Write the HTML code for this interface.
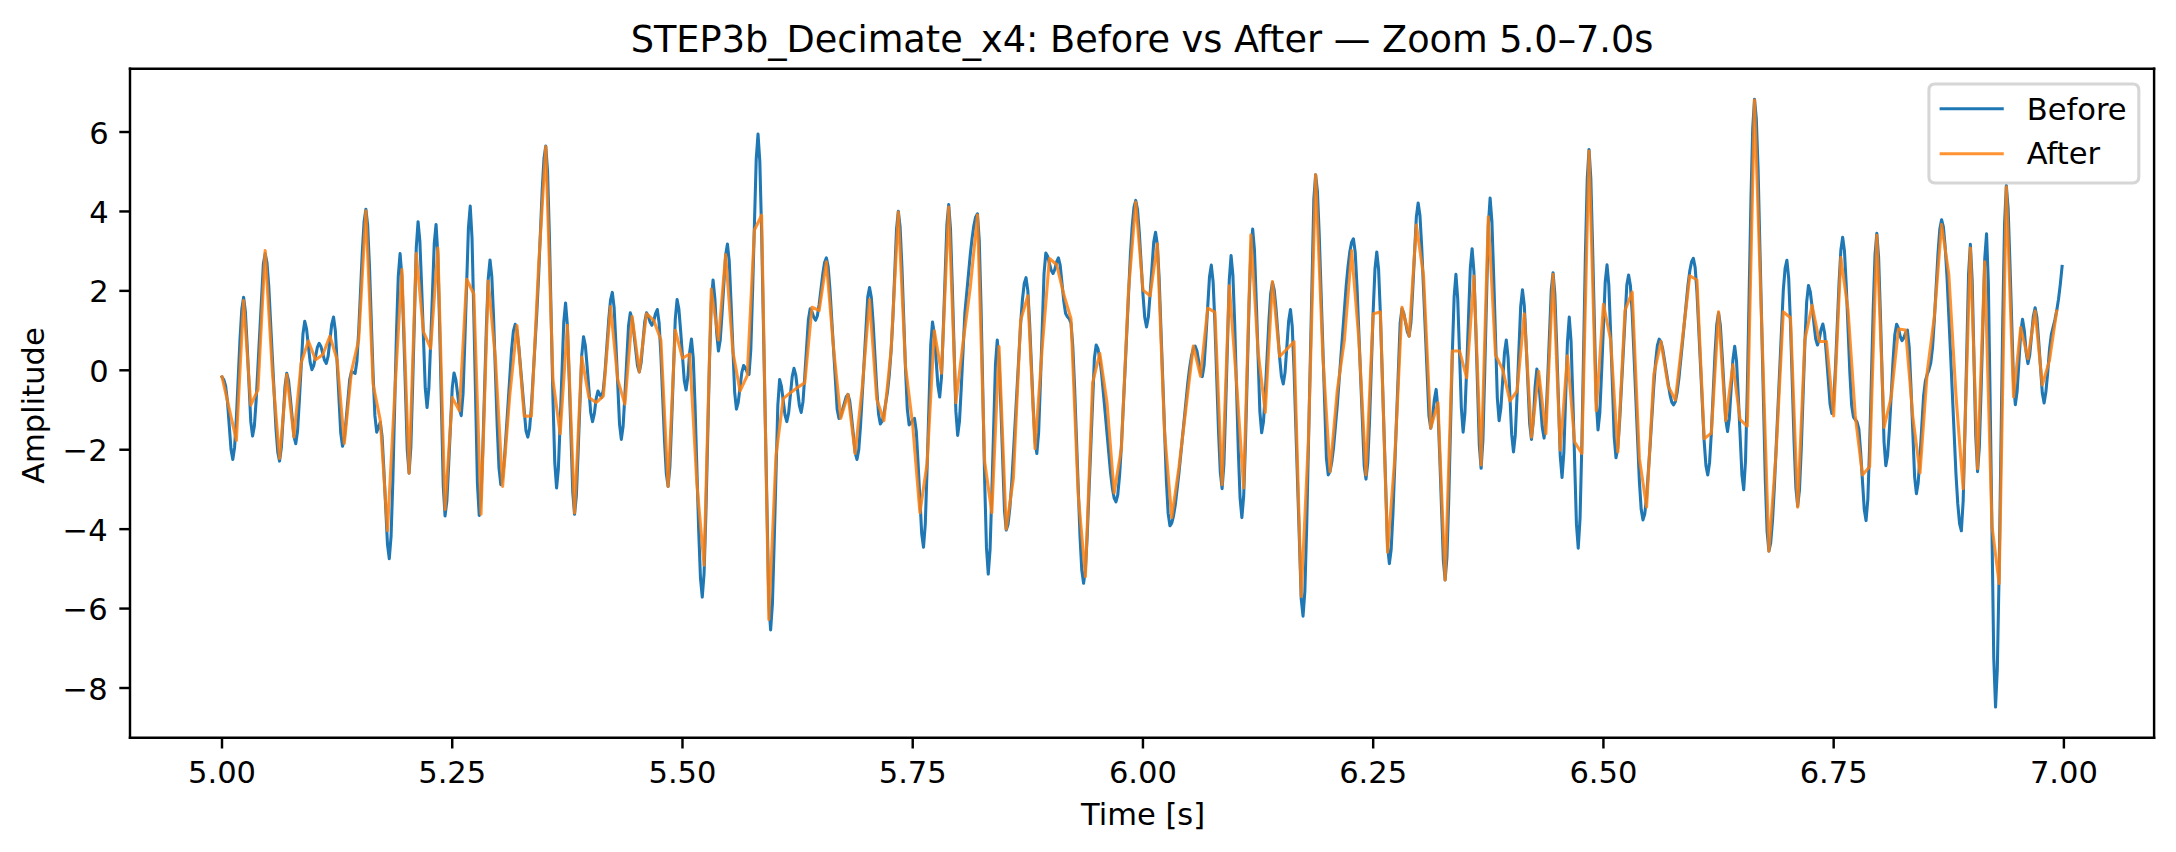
<!DOCTYPE html>
<html><head><meta charset="utf-8"><title>STEP3b_Decimate_x4: Before vs After</title>
<style>html,body{margin:0;padding:0;background:#fff;}body{width:2176px;height:852px;overflow:hidden;}svg{display:block;}</style>
</head><body>
<svg width="2176" height="852" viewBox="0 0 712.145 278.836" version="1.1"> <defs> <style type="text/css">*{stroke-linejoin: round; stroke-linecap: butt}</style> </defs> <g id="figure_1"> <g id="patch_1"> <path d="M 0 278.836  L 712.145 278.836  L 712.145 0  L 0 0  z " style="fill: #ffffff"/> </g> <g id="axes_1"> <g id="patch_2"> <path d="M 42.545 241.461  L 704.978 241.461  L 704.978 22.516  L 42.545 22.516  z " style="fill: #ffffff"/> </g> <g id="matplotlib.axis_1"> <g id="xtick_1"> <g id="line2d_1"> <g> <path d="M 0 0  L 0 3.5  " transform="translate(72.656 241.461)" style="stroke: #000000; stroke-width: 0.8"/> </g> </g> <g id="text_1"> <text style="font-size: 10px; font-family: 'DejaVu Sans', 'Liberation Sans', sans-serif; text-anchor: middle" x="72.656" y="256.060" transform="translate(0.000 0.360) rotate(-0 72.656 256.060)">5.00</text> </g> </g> <g id="xtick_2"> <g id="line2d_2"> <g> <path d="M 0 0  L 0 3.5  " transform="translate(148.006 241.461)" style="stroke: #000000; stroke-width: 0.8"/> </g> </g> <g id="text_2"> <text style="font-size: 10px; font-family: 'DejaVu Sans', 'Liberation Sans', sans-serif; text-anchor: middle" x="148.006" y="256.060" transform="translate(0.000 0.360) rotate(-0 148.006 256.060)">5.25</text> </g> </g> <g id="xtick_3"> <g id="line2d_3"> <g> <path d="M 0 0  L 0 3.5  " transform="translate(223.356 241.461)" style="stroke: #000000; stroke-width: 0.8"/> </g> </g> <g id="text_3"> <text style="font-size: 10px; font-family: 'DejaVu Sans', 'Liberation Sans', sans-serif; text-anchor: middle" x="223.356" y="256.060" transform="translate(0.000 0.360) rotate(-0 223.356 256.060)">5.50</text> </g> </g> <g id="xtick_4"> <g id="line2d_4"> <g> <path d="M 0 0  L 0 3.5  " transform="translate(298.706 241.461)" style="stroke: #000000; stroke-width: 0.8"/> </g> </g> <g id="text_4"> <text style="font-size: 10px; font-family: 'DejaVu Sans', 'Liberation Sans', sans-serif; text-anchor: middle" x="298.706" y="256.060" transform="translate(0.000 0.360) rotate(-0 298.706 256.060)">5.75</text> </g> </g> <g id="xtick_5"> <g id="line2d_5"> <g> <path d="M 0 0  L 0 3.5  " transform="translate(374.056 241.461)" style="stroke: #000000; stroke-width: 0.8"/> </g> </g> <g id="text_5"> <text style="font-size: 10px; font-family: 'DejaVu Sans', 'Liberation Sans', sans-serif; text-anchor: middle" x="374.056" y="256.060" transform="translate(0.000 0.360) rotate(-0 374.056 256.060)">6.00</text> </g> </g> <g id="xtick_6"> <g id="line2d_6"> <g> <path d="M 0 0  L 0 3.5  " transform="translate(449.406 241.461)" style="stroke: #000000; stroke-width: 0.8"/> </g> </g> <g id="text_6"> <text style="font-size: 10px; font-family: 'DejaVu Sans', 'Liberation Sans', sans-serif; text-anchor: middle" x="449.406" y="256.060" transform="translate(0.000 0.360) rotate(-0 449.406 256.060)">6.25</text> </g> </g> <g id="xtick_7"> <g id="line2d_7"> <g> <path d="M 0 0  L 0 3.5  " transform="translate(524.756 241.461)" style="stroke: #000000; stroke-width: 0.8"/> </g> </g> <g id="text_7"> <text style="font-size: 10px; font-family: 'DejaVu Sans', 'Liberation Sans', sans-serif; text-anchor: middle" x="524.756" y="256.060" transform="translate(0.000 0.360) rotate(-0 524.756 256.060)">6.50</text> </g> </g> <g id="xtick_8"> <g id="line2d_8"> <g> <path d="M 0 0  L 0 3.5  " transform="translate(600.106 241.461)" style="stroke: #000000; stroke-width: 0.8"/> </g> </g> <g id="text_8"> <text style="font-size: 10px; font-family: 'DejaVu Sans', 'Liberation Sans', sans-serif; text-anchor: middle" x="600.106" y="256.060" transform="translate(0.000 0.360) rotate(-0 600.106 256.060)">6.75</text> </g> </g> <g id="xtick_9"> <g id="line2d_9"> <g> <path d="M 0 0  L 0 3.5  " transform="translate(675.456 241.461)" style="stroke: #000000; stroke-width: 0.8"/> </g> </g> <g id="text_9"> <text style="font-size: 10px; font-family: 'DejaVu Sans', 'Liberation Sans', sans-serif; text-anchor: middle" x="675.456" y="256.060" transform="translate(0.000 0.360) rotate(-0 675.456 256.060)">7.00</text> </g> </g> <g id="text_10"> <text style="font-size: 10px; font-family: 'DejaVu Sans', 'Liberation Sans', sans-serif; text-anchor: middle" x="373.761" y="269.738" transform="translate(0.327 0.360) rotate(-0 373.761 269.738)">Time [s]</text> </g> </g> <g id="matplotlib.axis_2"> <g id="ytick_1"> <g id="line2d_10"> <g> <path d="M 0 0  L -3.5 0  " transform="translate(42.545 225.163)" style="stroke: #000000; stroke-width: 0.8"/> </g> </g> <g id="text_11"> <text style="font-size: 10px; font-family: 'DejaVu Sans', 'Liberation Sans', sans-serif; text-anchor: end" x="35.545" y="228.962" transform="translate(-0.327 0.000) rotate(-0 35.545 228.962)">−8</text> </g> </g> <g id="ytick_2"> <g id="line2d_11"> <g> <path d="M 0 0  L -3.5 0  " transform="translate(42.545 199.169)" style="stroke: #000000; stroke-width: 0.8"/> </g> </g> <g id="text_12"> <text style="font-size: 10px; font-family: 'DejaVu Sans', 'Liberation Sans', sans-serif; text-anchor: end" x="35.545" y="202.969" transform="translate(-0.327 0.000) rotate(-0 35.545 202.969)">−6</text> </g> </g> <g id="ytick_3"> <g id="line2d_12"> <g> <path d="M 0 0  L -3.5 0  " transform="translate(42.545 173.176)" style="stroke: #000000; stroke-width: 0.8"/> </g> </g> <g id="text_13"> <text style="font-size: 10px; font-family: 'DejaVu Sans', 'Liberation Sans', sans-serif; text-anchor: end" x="35.545" y="176.975" transform="translate(-0.327 0.000) rotate(-0 35.545 176.975)">−4</text> </g> </g> <g id="ytick_4"> <g id="line2d_13"> <g> <path d="M 0 0  L -3.5 0  " transform="translate(42.545 147.182)" style="stroke: #000000; stroke-width: 0.8"/> </g> </g> <g id="text_14"> <text style="font-size: 10px; font-family: 'DejaVu Sans', 'Liberation Sans', sans-serif; text-anchor: end" x="35.545" y="150.981" transform="translate(-0.327 0.000) rotate(-0 35.545 150.981)">−2</text> </g> </g> <g id="ytick_5"> <g id="line2d_14"> <g> <path d="M 0 0  L -3.5 0  " transform="translate(42.545 121.188)" style="stroke: #000000; stroke-width: 0.8"/> </g> </g> <g id="text_15"> <text style="font-size: 10px; font-family: 'DejaVu Sans', 'Liberation Sans', sans-serif; text-anchor: end" x="35.545" y="124.987" transform="rotate(-0 35.545 124.987)">0</text> </g> </g> <g id="ytick_6"> <g id="line2d_15"> <g> <path d="M 0 0  L -3.5 0  " transform="translate(42.545 95.194)" style="stroke: #000000; stroke-width: 0.8"/> </g> </g> <g id="text_16"> <text style="font-size: 10px; font-family: 'DejaVu Sans', 'Liberation Sans', sans-serif; text-anchor: end" x="35.545" y="98.994" transform="rotate(-0 35.545 98.994)">2</text> </g> </g> <g id="ytick_7"> <g id="line2d_16"> <g> <path d="M 0 0  L -3.5 0  " transform="translate(42.545 69.201)" style="stroke: #000000; stroke-width: 0.8"/> </g> </g> <g id="text_17"> <text style="font-size: 10px; font-family: 'DejaVu Sans', 'Liberation Sans', sans-serif; text-anchor: end" x="35.545" y="73.000" transform="rotate(-0 35.545 73.000)">4</text> </g> </g> <g id="ytick_8"> <g id="line2d_17"> <g> <path d="M 0 0  L -3.5 0  " transform="translate(42.545 43.207)" style="stroke: #000000; stroke-width: 0.8"/> </g> </g> <g id="text_18"> <text style="font-size: 10px; font-family: 'DejaVu Sans', 'Liberation Sans', sans-serif; text-anchor: end" x="35.545" y="47.006" transform="rotate(-0 35.545 47.006)">6</text> </g> </g> <g id="text_19"> <text style="font-size: 10px; font-family: 'DejaVu Sans', 'Liberation Sans', sans-serif; text-anchor: middle" x="14.723" y="131.989" transform="translate(-0.327 0.752) rotate(-90 14.723 131.989)">Amplitude</text> </g> </g> <g id="line2d_18"> <path d="M 72.656 123.384  L 73.244 124.274  L 73.833 126.290  L 74.422 131.227  L 75.599 146.984  L 76.188 150.350  L 76.776 146.421  L 77.365 136.597  L 78.542 111.055  L 79.131 101.231  L 79.720 97.301  L 80.308 102.025  L 80.897 113.291  L 82.074 138.001  L 82.663 142.725  L 83.252 139.417  L 83.840 130.885  L 86.195 86.308  L 86.784 83.000  L 87.372 85.918  L 87.961 93.610  L 89.138 116.953  L 90.316 140.296  L 90.904 147.989  L 91.493 150.907  L 92.082 146.417  L 93.259 126.663  L 93.848 122.173  L 94.436 124.569  L 95.025 130.283  L 96.202 142.816  L 96.791 145.212  L 97.380 141.047  L 97.968 131.112  L 99.146 109.322  L 99.734 105.156  L 100.323 107.631  L 101.500 118.520  L 102.089 120.995  L 102.678 119.645  L 103.855 113.705  L 104.444 112.355  L 105.032 113.388  L 106.210 117.933  L 106.799 118.966  L 107.387 116.588  L 108.565 106.126  L 109.153 103.748  L 109.742 108.149  L 110.331 118.643  L 111.508 141.663  L 112.097 146.063  L 112.685 143.518  L 113.274 137.447  L 114.451 124.130  L 115.040 121.584  L 116.217 122.239  L 116.806 118.256  L 117.395 108.299  L 118.572 82.410  L 119.161 72.452  L 119.749 68.470  L 120.338 73.875  L 120.927 87.390  L 122.104 122.528  L 122.693 136.043  L 123.281 141.449  L 124.459 138.209  L 125.047 142.851  L 125.636 153.922  L 126.813 178.205  L 127.402 182.848  L 127.991 175.451  L 128.579 156.961  L 129.757 108.886  L 130.345 90.396  L 130.934 83.000  L 131.523 90.474  L 132.111 108.297  L 133.289 147.393  L 133.877 154.867  L 134.466 146.307  L 135.055 125.895  L 136.232 81.120  L 136.821 72.560  L 137.409 78.884  L 137.998 93.964  L 139.175 127.042  L 139.764 133.366  L 140.353 127.134  L 140.941 112.273  L 142.119 79.676  L 142.708 73.444  L 143.296 83.369  L 143.885 107.035  L 145.062 158.949  L 145.651 168.874  L 146.240 164.006  L 146.828 152.400  L 148.006 126.942  L 148.594 122.075  L 149.183 124.259  L 150.360 133.866  L 150.949 136.049  L 151.538 128.912  L 152.126 111.893  L 153.304 74.560  L 153.892 67.422  L 154.481 77.956  L 155.070 103.076  L 156.247 158.176  L 156.836 168.710  L 157.424 162.516  L 158.013 147.032  L 159.190 106.773  L 159.779 91.288  L 160.368 85.094  L 160.956 90.542  L 161.545 104.159  L 162.722 139.565  L 163.311 153.183  L 163.900 158.630  L 164.488 156.375  L 165.077 150.428  L 166.254 132.384  L 167.432 114.339  L 168.020 108.393  L 168.609 106.137  L 169.198 108.182  L 169.786 113.456  L 172.141 141.008  L 172.730 143.053  L 173.318 140.287  L 173.907 133.146  L 175.673 102.693  L 176.262 90.572  L 177.439 62.305  L 178.028 51.894  L 178.617 47.787  L 179.205 56.077  L 179.794 76.804  L 180.971 130.693  L 181.560 151.420  L 182.149 159.710  L 182.737 153.410  L 183.326 138.387  L 184.503 105.434  L 185.092 99.134  L 185.681 106.329  L 186.269 123.486  L 187.447 161.122  L 188.035 168.317  L 188.624 162.273  L 189.213 147.858  L 190.390 116.240  L 190.979 110.195  L 191.567 113.085  L 192.156 119.976  L 193.333 135.090  L 193.922 137.980  L 194.511 135.384  L 195.099 130.562  L 195.688 127.966  L 196.865 130.126  L 197.454 127.575  L 198.043 121.200  L 199.220 104.624  L 199.809 98.248  L 200.397 95.698  L 200.986 100.701  L 201.575 112.632  L 202.752 138.802  L 203.341 143.805  L 203.929 139.496  L 204.518 129.221  L 205.695 106.683  L 206.284 102.374  L 206.873 104.389  L 207.461 109.194  L 208.639 119.733  L 209.227 121.748  L 209.816 118.721  L 210.993 105.401  L 211.582 102.374  L 212.171 103.426  L 212.759 105.380  L 213.348 106.432  L 213.937 105.100  L 214.526 102.626  L 215.114 101.294  L 215.703 105.582  L 216.292 116.303  L 217.469 144.177  L 218.058 154.898  L 218.646 159.187  L 219.235 152.829  L 219.824 137.668  L 221.001 104.412  L 221.590 98.054  L 222.178 101.131  L 222.767 108.468  L 223.944 124.562  L 224.533 127.639  L 225.122 123.311  L 225.710 115.275  L 226.299 110.948  L 226.888 117.205  L 227.476 132.847  L 228.654 173.516  L 229.242 189.158  L 229.831 195.414  L 230.420 187.725  L 231.008 168.501  L 232.186 118.520  L 232.774 99.296  L 233.363 91.607  L 233.952 97.640  L 234.540 108.843  L 235.129 114.875  L 235.718 111.237  L 236.306 102.561  L 237.484 83.529  L 238.072 79.891  L 238.661 85.510  L 239.250 98.910  L 240.427 128.303  L 241.016 133.922  L 241.604 131.687  L 242.782 121.855  L 243.370 119.621  L 243.959 120.384  L 244.548 121.802  L 245.136 122.566  L 245.725 114.380  L 246.314 94.861  L 247.491 52.045  L 248.080 43.859  L 248.668 52.851  L 249.257 76.040  L 251.612 197.190  L 252.201 206.181  L 252.789 197.656  L 253.378 177.325  L 254.555 132.728  L 255.144 124.202  L 255.733 126.355  L 256.910 135.827  L 257.499 137.980  L 258.087 135.255  L 259.265 123.262  L 259.853 120.537  L 260.442 122.792  L 261.619 132.714  L 262.208 134.969  L 262.797 131.443  L 263.385 123.035  L 264.563 104.591  L 265.151 101.065  L 265.740 102.041  L 266.329 103.853  L 266.917 104.828  L 267.506 103.316  L 268.095 99.534  L 269.272 89.702  L 269.861 85.920  L 270.449 84.407  L 271.038 87.317  L 271.627 94.820  L 273.981 134.023  L 274.570 136.933  L 275.159 136.116  L 276.925 129.895  L 277.513 129.078  L 278.102 131.291  L 278.691 136.566  L 279.868 148.138  L 280.457 150.350  L 281.045 147.234  L 281.634 139.198  L 283.989 97.210  L 284.577 94.094  L 285.166 97.403  L 285.755 105.676  L 286.932 127.184  L 287.521 135.456  L 288.110 138.765  L 288.698 137.862  L 289.287 135.472  L 290.464 128.141  L 291.053 122.555  L 291.642 114.700  L 292.230 103.817  L 293.408 75.018  L 293.996 69.124  L 294.585 74.305  L 295.174 87.256  L 296.351 120.928  L 296.940 133.880  L 297.528 139.060  L 298.117 138.508  L 298.706 137.484  L 299.294 136.933  L 299.883 141.316  L 300.472 151.770  L 301.649 174.700  L 302.238 179.084  L 302.826 171.419  L 303.415 153.142  L 304.592 113.049  L 305.181 105.385  L 305.770 109.220  L 306.947 126.094  L 307.536 129.929  L 308.124 123.381  L 308.713 107.766  L 309.890 73.513  L 310.479 66.964  L 311.068 74.819  L 311.656 93.551  L 312.834 134.641  L 313.422 142.496  L 314.011 137.887  L 314.600 126.871  L 315.777 102.479  L 317.543 83.319  L 318.132 78.021  L 318.720 73.791  L 319.309 70.989  L 319.898 69.975  L 320.486 78.709  L 321.075 100.545  L 322.253 157.318  L 322.841 179.153  L 323.430 187.887  L 324.019 179.920  L 324.607 160.920  L 325.785 119.243  L 326.373 111.275  L 326.962 117.746  L 327.551 133.174  L 328.728 167.018  L 329.317 173.488  L 329.905 171.563  L 330.494 166.286  L 331.083 158.402  L 332.260 137.790  L 334.026 105.941  L 334.615 98.056  L 335.203 92.779  L 335.792 90.854  L 336.381 95.118  L 336.969 105.779  L 338.147 133.495  L 338.735 144.156  L 339.324 148.420  L 339.913 141.596  L 340.501 125.323  L 341.679 89.628  L 342.267 82.804  L 342.856 83.852  L 344.033 88.464  L 344.622 89.512  L 345.211 88.189  L 345.799 85.731  L 346.388 84.407  L 346.977 86.882  L 348.154 98.647  L 348.743 102.582  L 349.331 103.636  L 349.920 104.287  L 350.509 105.790  L 351.097 113.309  L 351.686 126.558  L 353.452 175.583  L 354.041 186.651  L 354.629 190.898  L 355.218 186.578  L 355.807 175.437  L 358.162 117.232  L 358.750 112.912  L 359.339 114.107  L 359.928 117.384  L 360.516 122.280  L 361.694 135.080  L 363.460 154.858  L 364.048 159.754  L 364.637 163.031  L 365.226 164.226  L 365.814 161.929  L 366.403 155.630  L 366.992 146.218  L 368.169 121.615  L 369.935 83.598  L 370.524 74.186  L 371.112 67.887  L 371.701 65.590  L 372.290 68.656  L 372.878 76.323  L 374.056 96.255  L 374.644 103.922  L 375.233 106.988  L 375.822 103.765  L 376.410 96.079  L 377.588 79.220  L 378.176 75.997  L 378.765 80.125  L 379.354 91.010  L 380.531 124.039  L 381.708 157.068  L 382.297 167.952  L 382.886 172.081  L 383.474 171.223  L 384.063 168.821  L 384.652 165.133  L 385.829 154.926  L 388.772 124.904  L 389.361 120.187  L 389.950 116.498  L 390.538 114.097  L 391.127 113.239  L 391.716 114.804  L 392.893 121.688  L 393.482 123.253  L 394.071 119.458  L 394.659 110.409  L 395.837 90.558  L 396.425 86.763  L 397.014 92.184  L 397.603 105.735  L 398.780 140.968  L 399.369 154.519  L 399.957 159.939  L 400.546 152.006  L 401.135 133.087  L 402.312 91.588  L 402.901 83.655  L 403.489 90.006  L 404.078 105.884  L 405.255 147.168  L 405.844 163.046  L 406.433 169.397  L 407.021 162.401  L 407.610 144.911  L 408.787 99.436  L 409.376 81.945  L 409.965 74.949  L 410.553 81.886  L 411.142 98.426  L 412.319 134.709  L 412.908 141.645  L 413.497 138.002  L 414.085 128.893  L 415.263 105.210  L 415.851 96.101  L 416.440 92.458  L 417.029 94.918  L 417.617 101.070  L 418.795 117.063  L 419.383 123.214  L 419.972 125.675  L 420.561 121.865  L 421.738 105.103  L 422.327 101.294  L 422.915 106.854  L 423.504 121.193  L 425.859 196.105  L 426.447 201.665  L 427.036 193.662  L 427.625 173.021  L 429.980 65.183  L 430.568 57.179  L 431.157 62.621  L 431.746 76.656  L 434.100 149.981  L 434.689 155.423  L 435.278 154.297  L 435.866 151.143  L 436.455 146.300  L 437.632 132.896  L 440.576 93.475  L 441.164 87.280  L 441.753 82.437  L 442.342 79.283  L 442.930 78.157  L 443.519 82.513  L 444.108 93.747  L 446.462 152.441  L 447.051 156.798  L 447.640 151.292  L 448.228 137.529  L 449.406 101.745  L 449.994 87.982  L 450.583 82.476  L 451.172 88.125  L 451.760 102.693  L 454.115 178.802  L 454.704 184.451  L 455.292 179.832  L 455.881 167.920  L 458.236 105.684  L 458.824 101.065  L 459.413 102.461  L 460.590 108.603  L 461.179 109.999  L 461.768 105.469  L 462.356 94.666  L 463.534 70.971  L 464.122 66.441  L 464.711 70.523  L 465.300 81.051  L 467.655 136.057  L 468.243 140.140  L 468.832 136.848  L 469.421 130.734  L 470.009 127.442  L 470.598 133.929  L 471.187 149.399  L 472.364 183.331  L 472.953 189.818  L 473.541 182.408  L 474.130 163.881  L 475.307 115.712  L 475.896 97.185  L 476.485 89.774  L 477.073 97.848  L 478.251 133.375  L 478.839 141.449  L 479.428 135.204  L 480.017 120.310  L 481.194 87.642  L 481.783 81.396  L 482.371 88.871  L 482.960 106.693  L 484.137 145.789  L 484.726 153.263  L 485.315 144.067  L 485.903 122.137  L 487.081 74.033  L 487.669 64.837  L 488.258 72.413  L 488.847 90.480  L 490.024 130.109  L 490.613 137.685  L 491.201 133.559  L 492.379 115.402  L 492.967 111.275  L 493.556 116.997  L 494.733 142.174  L 495.322 147.896  L 495.911 142.379  L 496.499 129.223  L 497.677 100.364  L 498.265 94.847  L 498.854 99.939  L 499.443 112.080  L 500.620 138.714  L 501.209 143.805  L 501.798 137.832  L 502.386 126.739  L 502.975 120.766  L 503.564 124.299  L 504.741 139.846  L 505.330 143.380  L 505.918 137.750  L 506.507 124.326  L 507.684 94.880  L 508.273 89.251  L 508.862 96.221  L 509.450 112.843  L 510.628 149.304  L 511.216 156.274  L 511.805 148.067  L 512.982 111.956  L 513.571 103.748  L 514.160 111.617  L 514.748 130.382  L 515.926 171.542  L 516.514 179.411  L 517.103 169.744  L 517.692 145.575  L 518.869 82.736  L 519.458 58.567  L 520.046 48.899  L 520.635 58.446  L 521.224 81.212  L 522.401 131.149  L 522.990 140.696  L 523.578 135.077  L 524.167 121.677  L 525.344 92.285  L 525.933 86.665  L 526.522 93.234  L 527.110 108.898  L 528.288 143.258  L 528.876 149.827  L 529.465 146.513  L 530.054 137.967  L 532.408 93.317  L 532.997 90.003  L 533.586 93.447  L 534.174 102.526  L 535.352 130.077  L 536.529 157.627  L 537.118 166.706  L 537.707 170.150  L 538.295 168.121  L 538.884 162.683  L 540.061 145.476  L 541.239 126.321  L 541.827 118.448  L 542.416 113.010  L 543.005 110.981  L 543.593 111.906  L 544.182 114.346  L 545.359 121.748  L 546.537 129.150  L 547.125 131.589  L 547.714 132.515  L 548.303 131.397  L 548.891 128.333  L 549.480 123.756  L 550.657 111.789  L 552.423 93.297  L 553.012 88.719  L 553.601 85.656  L 554.189 84.538  L 554.778 87.584  L 555.367 95.614  L 556.544 119.981  L 557.721 144.347  L 558.310 152.377  L 558.899 155.423  L 559.487 151.493  L 560.076 141.670  L 561.253 116.127  L 561.842 106.303  L 562.431 102.374  L 563.019 106.414  L 563.608 116.048  L 564.785 137.180  L 565.374 141.220  L 565.963 136.863  L 567.140 117.694  L 567.729 113.337  L 568.317 118.218  L 568.906 129.856  L 570.083 155.386  L 570.672 160.267  L 571.261 150.800  L 571.849 127.134  L 573.027 65.603  L 573.616 41.937  L 574.204 32.471  L 574.793 38.825  L 575.382 55.579  L 576.559 106.416  L 577.736 157.253  L 578.325 174.006  L 578.914 180.360  L 579.502 177.695  L 580.091 170.460  L 580.680 159.797  L 583.623 95.061  L 584.212 87.826  L 584.800 85.160  L 585.389 91.121  L 585.978 106.023  L 587.155 144.770  L 587.744 159.673  L 588.332 165.634  L 588.921 160.286  L 589.510 146.917  L 590.687 112.157  L 591.276 98.787  L 591.864 93.440  L 592.453 95.465  L 593.042 100.294  L 594.219 110.887  L 594.808 112.912  L 595.396 111.130  L 595.985 107.821  L 596.574 106.039  L 597.162 109.085  L 597.751 116.349  L 598.928 132.283  L 599.517 135.329  L 600.106 131.055  L 600.694 120.371  L 601.872 92.591  L 602.460 81.907  L 603.049 77.633  L 603.638 82.119  L 604.226 93.291  L 605.404 121.968  L 605.992 132.612  L 606.581 136.516  L 607.758 138.113  L 608.347 140.388  L 608.936 147.894  L 610.113 166.633  L 610.702 170.379  L 611.291 163.414  L 611.879 146.003  L 613.057 100.733  L 613.645 83.321  L 614.234 76.357  L 614.823 84.266  L 615.411 103.128  L 616.589 144.502  L 617.177 152.412  L 617.766 148.982  L 618.355 140.407  L 619.532 118.110  L 620.121 109.535  L 620.709 106.105  L 621.298 107.496  L 621.887 110.080  L 622.475 111.472  L 623.064 110.581  L 623.653 108.926  L 624.241 108.036  L 624.830 113.604  L 625.419 126.882  L 626.596 156.007  L 627.185 161.576  L 627.773 157.978  L 628.362 149.313  L 629.539 129.538  L 630.128 124.660  L 630.717 122.575  L 631.305 120.994  L 631.894 118.777  L 632.483 113.553  L 633.071 104.392  L 634.249 82.944  L 634.837 75.030  L 635.426 71.906  L 636.015 74.277  L 636.603 80.779  L 637.192 90.493  L 638.369 115.889  L 640.135 155.129  L 640.724 164.844  L 641.313 171.346  L 641.901 173.717  L 642.490 163.966  L 643.079 140.713  L 644.256 89.708  L 644.845 79.956  L 645.433 91.584  L 646.611 142.748  L 647.200 154.376  L 647.788 146.279  L 648.377 126.971  L 649.554 84.617  L 650.143 76.520  L 650.732 92.629  L 651.320 131.043  L 652.498 215.304  L 653.086 231.413  L 653.675 218.769  L 654.264 187.158  L 655.441 104.969  L 656.030 73.358  L 656.618 60.713  L 657.207 68.174  L 657.796 85.964  L 658.973 124.989  L 659.562 132.449  L 660.150 128.077  L 661.328 108.840  L 661.916 104.468  L 662.505 108.236  L 663.094 115.232  L 663.682 118.999  L 664.271 116.140  L 665.448 103.563  L 666.037 100.705  L 666.626 103.948  L 667.214 111.683  L 668.392 128.649  L 668.980 131.893  L 669.569 128.243  L 670.158 121.912  L 670.746 114.366  L 671.335 109.542  L 672.512 104.672  L 673.101 101.670  L 673.690 97.944  L 674.278 93.085  L 674.867 87.203  L 674.867 87.203  " clip-path="url(#p6e7dc0c90b)" style="fill: none; stroke: #1f77b4; stroke-linecap: square"/> </g> <g id="line2d_19"> <path d="M 72.656 123.319  L 77.365 144.133  L 79.720 98.381  L 82.074 132.580  L 84.429 127.508  L 86.784 82.018  L 89.138 121.582  L 91.493 150.023  L 93.848 122.599  L 96.202 143.020  L 98.557 118.802  L 100.912 111.603  L 103.266 117.755  L 105.621 116.119  L 107.976 109.999  L 110.331 117.755  L 112.685 145.114  L 115.040 121.421  L 117.395 111.210  L 119.749 68.993  L 122.104 125.740  L 124.459 137.587  L 126.813 173.684  L 129.168 129.143  L 131.523 88.171  L 133.877 154.867  L 136.232 83.000  L 138.587 108.592  L 140.941 113.992  L 143.296 81.167  L 145.651 166.714  L 148.006 130.126  L 150.360 134.446  L 152.715 91.378  L 155.070 96.221  L 157.424 168.317  L 159.779 91.934  L 162.134 117.357  L 164.488 159.187  L 166.843 129.275  L 169.198 106.530  L 171.552 136.180  L 173.907 136.180  L 176.262 87.194  L 178.617 47.950  L 180.971 124.366  L 183.326 141.973  L 185.681 106.432  L 188.035 167.892  L 190.390 116.872  L 192.745 130.126  L 195.099 131.762  L 197.454 129.602  L 199.809 100.312  L 202.163 124.240  L 204.518 132.286  L 206.873 103.552  L 209.227 121.715  L 211.582 102.668  L 213.937 104.828  L 216.292 111.275  L 218.646 159.187  L 221.001 108.068  L 223.356 117.232  L 225.710 115.857  L 228.065 158.314  L 230.420 184.975  L 232.774 94.618  L 235.129 111.275  L 237.484 83.327  L 239.838 115.039  L 242.193 127.966  L 244.548 122.926  L 246.902 75.277  L 249.257 70.433  L 251.612 202.745  L 253.967 148.976  L 256.321 130.453  L 258.676 128.522  L 261.031 126.788  L 263.385 125.315  L 265.740 100.541  L 268.095 101.621  L 270.449 85.684  L 272.804 113.992  L 275.159 136.933  L 277.513 129.078  L 279.868 148.420  L 282.223 126.470  L 284.577 98.039  L 286.932 130.682  L 289.287 137.685  L 291.642 114.417  L 293.996 69.386  L 296.351 119.915  L 298.706 139.158  L 301.060 167.794  L 303.415 151.660  L 305.770 108.265  L 308.124 122.141  L 310.479 67.750  L 312.834 131.762  L 315.188 112.094  L 317.543 94.094  L 319.898 70.368  L 322.253 151.103  L 324.607 167.794  L 326.962 113.435  L 329.317 173.161  L 331.671 156.442  L 334.026 104.828  L 336.381 96.778  L 338.735 146.816  L 341.090 113.770  L 343.445 84.604  L 345.799 86.567  L 348.154 96.398  L 350.509 104.305  L 352.863 161.777  L 355.218 188.738  L 357.573 125.315  L 359.928 115.628  L 362.282 131.762  L 364.637 161.346  L 366.992 146.785  L 369.346 94.885  L 371.701 66.113  L 374.056 94.945  L 376.410 96.778  L 378.765 79.760  L 381.120 141.372  L 383.474 169.397  L 385.829 153.015  L 390.538 113.239  L 392.893 123.122  L 395.248 100.868  L 397.603 102.145  L 399.957 158.630  L 402.312 93.538  L 404.667 124.959  L 407.021 159.710  L 409.376 76.880  L 411.731 115.028  L 414.085 134.969  L 416.440 92.131  L 418.795 116.675  L 423.504 111.832  L 425.859 195.218  L 428.213 143.781  L 430.568 57.179  L 432.923 116.355  L 435.278 154.343  L 437.632 127.966  L 439.987 111.275  L 442.342 82.018  L 444.696 110.892  L 447.051 155.423  L 449.406 102.668  L 451.760 102.145  L 454.115 180.688  L 456.470 149.992  L 458.824 100.541  L 461.179 109.999  L 463.534 73.640  L 465.889 90.331  L 468.243 140.140  L 470.598 131.762  L 472.953 189.818  L 475.307 114.843  L 477.662 114.843  L 480.017 123.646  L 482.371 90.331  L 484.726 152.183  L 487.081 70.957  L 489.435 116.119  L 491.790 120.962  L 494.145 131.206  L 496.499 127.966  L 498.854 102.668  L 501.209 143.053  L 503.564 121.519  L 505.918 141.973  L 508.273 89.774  L 510.628 147.340  L 512.982 116.446  L 515.337 144.656  L 517.692 148.420  L 520.046 49.423  L 522.401 134.446  L 524.756 99.592  L 527.110 111.210  L 529.465 147.929  L 531.820 101.523  L 534.174 95.600  L 536.529 150.023  L 538.884 165.961  L 541.239 122.599  L 543.593 111.734  L 545.948 126.362  L 548.303 130.911  L 553.012 90.232  L 555.367 91.640  L 557.721 143.576  L 560.076 141.744  L 562.431 102.047  L 564.785 137.685  L 567.140 119.392  L 569.495 137.358  L 571.849 139.485  L 574.204 32.733  L 578.914 180.360  L 581.268 148.191  L 583.623 102.047  L 585.978 103.977  L 588.332 165.961  L 590.687 111.210  L 593.042 99.887  L 595.396 111.734  L 597.751 111.734  L 600.106 136.147  L 602.460 84.309  L 604.815 101.523  L 607.170 136.049  L 609.524 155.423  L 611.879 152.740  L 614.234 77.011  L 616.589 139.878  L 618.943 129.929  L 621.298 107.708  L 623.653 108.036  L 626.007 136.338  L 628.362 154.769  L 630.717 121.911  L 633.071 103.487  L 635.426 73.509  L 637.781 89.643  L 640.135 129.406  L 642.490 159.939  L 644.845 81.135  L 647.200 153.361  L 649.554 85.651  L 651.909 172.015  L 654.264 190.931  L 656.618 61.139  L 658.973 129.929  L 661.328 107.185  L 663.682 117.395  L 666.037 101.785  L 668.392 126.002  L 670.746 117.919  L 673.101 101.785  L 673.101 101.785  " clip-path="url(#p6e7dc0c90b)" style="fill: none; stroke: #ff7f0e; stroke-opacity: 0.85; stroke-linecap: square"/> </g> <g id="patch_3"> <path d="M 42.545 241.461  L 42.545 22.516  " style="fill: none; stroke: #000000; stroke-width: 0.8; stroke-linejoin: miter; stroke-linecap: square"/> </g> <g id="patch_4"> <path d="M 704.978 241.461  L 704.978 22.516  " style="fill: none; stroke: #000000; stroke-width: 0.8; stroke-linejoin: miter; stroke-linecap: square"/> </g> <g id="patch_5"> <path d="M 42.545 241.461  L 704.978 241.461  " style="fill: none; stroke: #000000; stroke-width: 0.8; stroke-linejoin: miter; stroke-linecap: square"/> </g> <g id="patch_6"> <path d="M 42.545 22.516  L 704.978 22.516  " style="fill: none; stroke: #000000; stroke-width: 0.8; stroke-linejoin: miter; stroke-linecap: square"/> </g> <g id="text_20"> <text style="font-size: 12px; font-family: 'DejaVu Sans', 'Liberation Sans', sans-serif; text-anchor: middle" x="373.761" y="16.516" transform="translate(0.000 0.392) rotate(-0 373.761 16.516)">STEP3b_Decimate_x4: Before vs After — Zoom 5.0–7.0s</text> </g> <g id="legend_1"> <g id="patch_7"> <path d="M 633.285 59.872  L 697.978 59.872  Q 699.978 59.872 699.978 57.872  L 699.978 29.516  Q 699.978 27.516 697.978 27.516  L 633.285 27.516  Q 631.285 27.516 631.285 29.516  L 631.285 57.872  Q 631.285 59.872 633.285 59.872  z " style="fill: #ffffff; opacity: 0.8; stroke: #cccccc; stroke-linejoin: miter"/> </g> <g id="line2d_20"> <path d="M 635.285 35.614  L 645.285 35.614  L 655.285 35.614  " style="fill: none; stroke: #1f77b4; stroke-linecap: square"/> </g> <g id="text_21"> <text style="font-size: 10px; font-family: 'DejaVu Sans', 'Liberation Sans', sans-serif; text-anchor: start" x="663.285" y="39.114" transform="rotate(-0 663.285 39.114)">Before</text> </g> <g id="line2d_21"> <path d="M 635.285 50.292  L 645.285 50.292  L 655.285 50.292  " style="fill: none; stroke: #ff7f0e; stroke-opacity: 0.85; stroke-linecap: square"/> </g> <g id="text_22"> <text style="font-size: 10px; font-family: 'DejaVu Sans', 'Liberation Sans', sans-serif; text-anchor: start" x="663.285" y="53.792" transform="rotate(-0 663.285 53.792)">After</text> </g> </g> </g> </g> <defs> <clipPath id="p6e7dc0c90b"> <rect x="42.545" y="22.516" width="662.432" height="218.945"/> </clipPath> </defs> </svg> 
</body></html>
